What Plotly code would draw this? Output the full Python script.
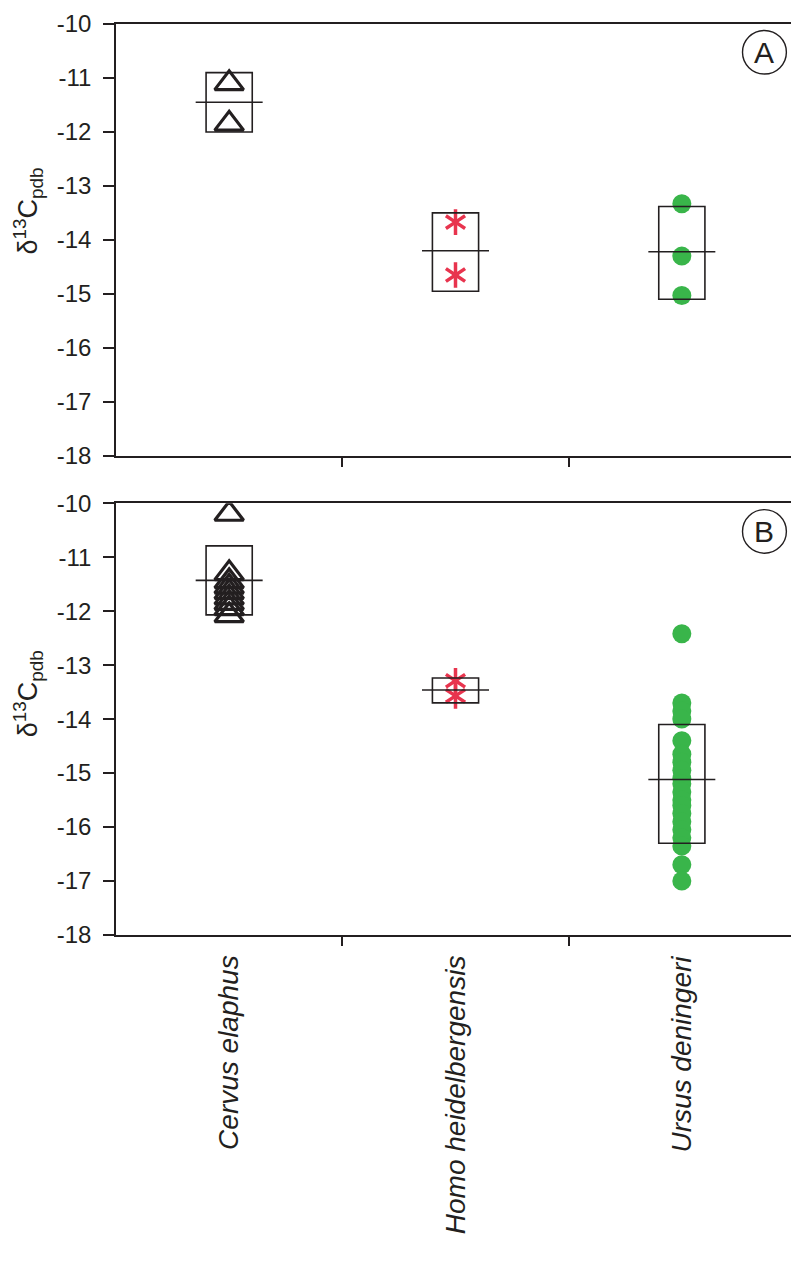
import plotly.graph_objects as go

# categories and tick labels
species = ["Cervus elaphus", "Homo heidelbergensis", "Ursus deningeri"]
ytick_vals = [-10, -11, -12, -13, -14, -15, -16, -17, -18]
ytick_text = ["-10", "-11", "-12", "-13", "-14", "-15", "-16", "-17", "-18"]

# panel A values (d13C, per mil)
cervus_a = [-11.1, -11.85]
homo_a = [-13.67, -14.65]
ursus_a = [-13.33, -14.3, -15.03]
box_hi_a = [-10.9, -13.5, -13.38]
box_lo_a = [-12.0, -14.95, -15.1]
box_mid_a = [-11.45, -14.2, -14.22]

# panel B values
cervus_b = [-10.2, -11.3, -11.45, -11.55, -11.65, -11.75, -11.85, -11.95, -12.08]
homo_b = [-13.29, -13.57]
ursus_b = [-12.42, -13.7, -13.85, -14.0, -14.4, -14.65, -14.8, -14.95, -15.1, -15.2,
           -15.35, -15.5, -15.6, -15.75, -15.9, -16.05, -16.2, -16.35, -16.7, -17.0]
box_hi_b = [-10.79, -13.24, -14.1]
box_lo_b = [-12.07, -13.7, -16.3]
box_mid_b = [-11.43, -13.46, -15.12]

BLACK = "#231F20"
RED = "#E8344E"
GREEN = "#39B54A"
FONT = "Liberation Sans"

fig = go.Figure()


def add_panel(xa, ya, cervus, homo, ursus, hi, lo, mid):
    fig.add_trace(go.Scatter(
        x=[1] * len(cervus), y=cervus, mode="markers", xaxis=xa, yaxis=ya,
        marker=dict(symbol="triangle-up-open", size=25, color=BLACK,
                    line=dict(width=3.2, color=BLACK))))
    for sym in ["y-up-open", "y-down-open"]:
        fig.add_trace(go.Scatter(
            x=[2] * len(homo), y=homo, mode="markers", xaxis=xa, yaxis=ya,
            marker=dict(symbol=sym, size=16, color=RED,
                        line=dict(width=3.5, color=RED))))
    fig.add_trace(go.Scatter(
        x=[3] * len(ursus), y=ursus, mode="markers", xaxis=xa, yaxis=ya,
        marker=dict(symbol="circle", size=19, color=GREEN, line=dict(width=0))))
    xr = "x" if xa == "x" else "x2"
    yr = "y" if ya == "y" else "y2"
    for i in range(len(species)):
        c = i + 1
        fig.add_shape(type="rect", xref=xr, yref=yr, x0=c - 0.102, x1=c + 0.102,
                      y0=lo[i], y1=hi[i], line=dict(color=BLACK, width=1.6))
        fig.add_shape(type="line", xref=xr, yref=yr, x0=c - 0.148, x1=c + 0.148,
                      y0=mid[i], y1=mid[i], line=dict(color=BLACK, width=1.6))


add_panel("x", "y", cervus_a, homo_a, ursus_a, box_hi_a, box_lo_a, box_mid_a)
add_panel("x2", "y2", cervus_b, homo_b, ursus_b, box_hi_b, box_lo_b, box_mid_b)

xax = dict(range=[0.5, 3.5], tickvals=[1.5, 2.5], showticklabels=False, ticks="outside",
           ticklen=9, tickwidth=1.5, tickcolor=BLACK, showline=True, linecolor=BLACK,
           linewidth=1.6, mirror=True, showgrid=False, zeroline=False, fixedrange=True)
yax = dict(range=[-18, -10], tickvals=ytick_vals, ticktext=ytick_text, ticks="outside",
           ticklen=11, tickwidth=1.5, tickcolor=BLACK, showline=True, linecolor=BLACK,
           linewidth=1.6, mirror=True, showgrid=False, zeroline=False,
           tickfont=dict(family=FONT, size=24, color=BLACK), ticklabelstandoff=7)

# the page body adds an 8px offset, so the figure is sized to fit inside it
fig.update_layout(
    width=791, height=1266,
    margin=dict(l=108, r=2, t=7, b=339),
    paper_bgcolor="white", plot_bgcolor="white",
    showlegend=False,
    xaxis=dict(xax, anchor="y"),
    yaxis=dict(yax, domain=[0.526, 1.0], anchor="x"),
    xaxis2=dict(xax, anchor="y2"),
    yaxis2=dict(yax, domain=[0.0, 0.474], anchor="x2"),
)

# y axis titles
for ycen in [0.795, 0.265]:
    fig.add_annotation(text="δ<sup>13</sup>C<sub>pdb</sub>", xref="paper", yref="paper",
                       x=-0.13, y=ycen, showarrow=False, textangle=-90,
                       xanchor="center", yanchor="middle",
                       font=dict(family=FONT, size=27, color=BLACK))

# panel letters
for letter, ycen in [("A", 0.969), ("B", 0.443)]:
    fig.add_annotation(text=letter, xref="paper", yref="paper", x=0.955, y=ycen,
                       showarrow=False, xanchor="center", yanchor="middle",
                       font=dict(family=FONT, size=30, color=BLACK))
    fig.add_shape(type="circle", xref="paper", yref="paper",
                  x0=0.955 - 22 / 681, x1=0.955 + 22 / 681,
                  y0=ycen - 22 / 920, y1=ycen + 22 / 920,
                  line=dict(color=BLACK, width=1.4))

# category labels under panel B
for i, name in enumerate(species):
    fig.add_annotation(text="<i>" + name + "</i>", xref="x2", yref="paper",
                       x=i + 1, y=-0.02, showarrow=False, textangle=-90,
                       xanchor="center", yanchor="top",
                       font=dict(family=FONT, size=28, color=BLACK))

fig.write_html("out.html")
